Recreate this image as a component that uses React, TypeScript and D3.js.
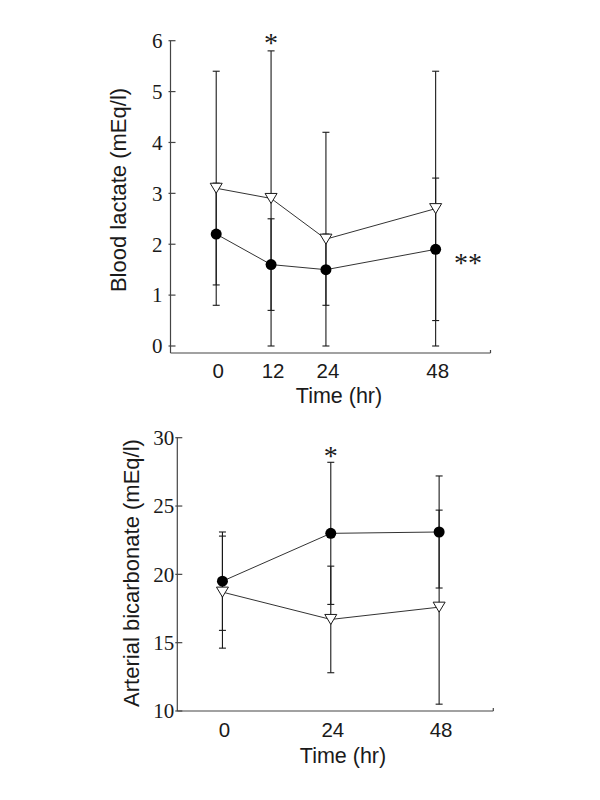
import React from "react";
import * as d3 from "d3";

// ---- Data: Blood lactate ----
const lactateTimes = [0, 12, 24, 48];
const lactateTri = [3.1, 2.9, 2.1, 2.7];
const lactateTriErr = [2.3, 2.9, 2.1, 2.7];
const lactateDot = [2.2, 1.6, 1.5, 1.9];
const lactateDotErr = [1.0, 0.9, 0.7, 1.4];
const lactateYTicks = [0, 1, 2, 3, 4, 5, 6];
const lactateXTicks = [0, 12, 24, 48];

// ---- Data: Arterial bicarbonate ----
const bicarbTimes = [0, 24, 48];
const bicarbDot = [19.5, 23.0, 23.1];
const bicarbDotErr = [3.6, 5.2, 4.1];
const bicarbTri = [18.7, 16.7, 17.6];
const bicarbTriErr = [4.1, 3.9, 7.1];
const bicarbYTicks = [10, 15, 20, 25, 30];
const bicarbXTicks = [0, 24, 48];

const SANS = "Arial, 'Liberation Sans', sans-serif";
const SERIF = "'Times New Roman', 'Liberation Serif', serif";
const INK = "#1a1a1a";

type PanelProps = {
  xRange: [number, number];
  yDomain: [number, number];
  yRange: [number, number];
  axisBottom: number;
  times: number[];
  tri: number[];
  triErr: number[];
  dot: number[];
  dotErr: number[];
  yTicks: number[];
  xTicks: number[];
  yLabel: string;
  yLabelX: number;
  yLabelY: number;
  yTickGap: number;
  xTickBaseline: number;
  titleBaseline: number;
  titleX: number;
  stars: { x: number; baseline: number; text: string }[];
};

function Panel(p: PanelProps) {
  const x = d3.scaleLinear().domain([-10, 60]).range(p.xRange);
  const y = d3.scaleLinear().domain(p.yDomain).range(p.yRange);
  const axisLeft = p.xRange[0];
  const axisRight = p.xRange[1];
  const yTop = p.yRange[1];

  const line = d3
    .line<number>()
    .x((_, i) => x(p.times[i]))
    .y((d) => y(d));

  const triPath = "M-6,-5L6,-5L0,5Z";
  const cap = 3.5;

  const errBars = (vals: number[], errs: number[], key: string) =>
    vals.map((v, i) => {
      const cx = x(p.times[i]);
      const lo = y(v - errs[i]);
      const hi = y(v + errs[i]);
      return (
        <g key={key + i} stroke={INK} strokeWidth={1.1}>
          <line x1={cx} x2={cx} y1={lo} y2={hi} />
          <line x1={cx - cap} x2={cx + cap} y1={lo} y2={lo} />
          <line x1={cx - cap} x2={cx + cap} y1={hi} y2={hi} />
        </g>
      );
    });

  return (
    <g>
      {/* axes */}
      <line x1={axisLeft} x2={axisLeft} y1={yTop} y2={p.axisBottom} stroke="#444" strokeWidth={1.2} />
      <line x1={axisLeft} x2={axisRight} y1={p.axisBottom} y2={p.axisBottom} stroke="#444" strokeWidth={1.2} />
      <line x1={axisRight} x2={axisRight} y1={p.axisBottom} y2={p.axisBottom - 3} stroke="#444" strokeWidth={1.2} />
      {p.yTicks.map((t) => (
        <g key={"yt" + t}>
          <line x1={axisLeft - 2} x2={axisLeft + 5} y1={y(t)} y2={y(t)} stroke="#444" strokeWidth={1.2} />
          <text
            x={axisLeft - p.yTickGap}
            y={y(t)}
            dy="0.35em"
            textAnchor="end"
            fontFamily={SERIF}
            fontSize={21}
            fill={INK}
          >
            {t}
          </text>
        </g>
      ))}
      {p.xTicks.map((t) => (
        <text
          key={"xt" + t}
          x={x(t) + 2}
          y={p.xTickBaseline}
          textAnchor="middle"
          fontFamily={SANS}
          fontSize={20.5}
          fill={INK}
        >
          {t}
        </text>
      ))}
      <text x={p.titleX} y={p.titleBaseline} textAnchor="middle" fontFamily={SANS} fontSize={21.5} fill={INK}>
        Time (hr)
      </text>
      <text
        transform={`translate(${p.yLabelX},${p.yLabelY}) rotate(-90)`}
        textAnchor="middle"
        fontFamily={SANS}
        fontSize={22}
        fill={INK}
      >
        {p.yLabel}
      </text>

      {/* error bars */}
      {errBars(p.tri, p.triErr, "te")}
      {errBars(p.dot, p.dotErr, "de")}

      {/* lines */}
      <path d={line(p.tri) || ""} fill="none" stroke="#333" strokeWidth={1} />
      <path d={line(p.dot) || ""} fill="none" stroke="#333" strokeWidth={1} />

      {/* markers */}
      {p.tri.map((v, i) => (
        <path
          key={"tm" + i}
          d={triPath}
          transform={`translate(${x(p.times[i])},${y(v)})`}
          fill="#fff"
          stroke={INK}
          strokeWidth={1}
        />
      ))}
      {p.dot.map((v, i) => (
        <circle key={"dm" + i} cx={x(p.times[i])} cy={y(v)} r={5.5} fill="#000" />
      ))}

      {p.stars.map((s, i) => (
        <text key={"st" + i} x={s.x} y={s.baseline} textAnchor="middle" fontFamily={SERIF} fontSize={28} fill={INK}>
          {s.text}
        </text>
      ))}
    </g>
  );
}

export default function App() {
  const xTop: [number, number] = [170.5, 490.5];
  const xBot: [number, number] = [177.3, 493.3];
  const xt = d3.scaleLinear().domain([-10, 60]).range(xTop);
  const xb = d3.scaleLinear().domain([-10, 60]).range(xBot);
  return (
    <svg width={600} height={800} style={{ position: "absolute", left: 0, top: 0, background: "#fff" }}>
      <rect width={600} height={800} fill="#fff" />
      <Panel
        xRange={xTop}
        yDomain={[0, 6]}
        yRange={[346, 40.7]}
        axisBottom={353}
        times={lactateTimes}
        tri={lactateTri}
        triErr={lactateTriErr}
        dot={lactateDot}
        dotErr={lactateDotErr}
        yTicks={lactateYTicks}
        xTicks={lactateXTicks}
        yLabel="Blood lactate (mEq/l)"
        yLabelX={126}
        yLabelY={190}
        yTickGap={8}
        xTickBaseline={378}
        titleBaseline={403}
        titleX={339}
        stars={[
          { x: xt(12), baseline: 52, text: "*" },
          { x: 468, baseline: 272, text: "**" },
        ]}
      />
      <Panel
        xRange={xBot}
        yDomain={[10, 30]}
        yRange={[711, 437.7]}
        axisBottom={711}
        times={bicarbTimes}
        tri={bicarbTri}
        triErr={bicarbTriErr}
        dot={bicarbDot}
        dotErr={bicarbDotErr}
        yTicks={bicarbYTicks}
        xTicks={bicarbXTicks}
        yLabel="Arterial bicarbonate (mEq/l)"
        yLabelX={139}
        yLabelY={573}
        yTickGap={3}
        xTickBaseline={737}
        titleBaseline={763}
        titleX={343}
        stars={[{ x: xb(24), baseline: 465, text: "*" }]}
      />
    </svg>
  );
}
